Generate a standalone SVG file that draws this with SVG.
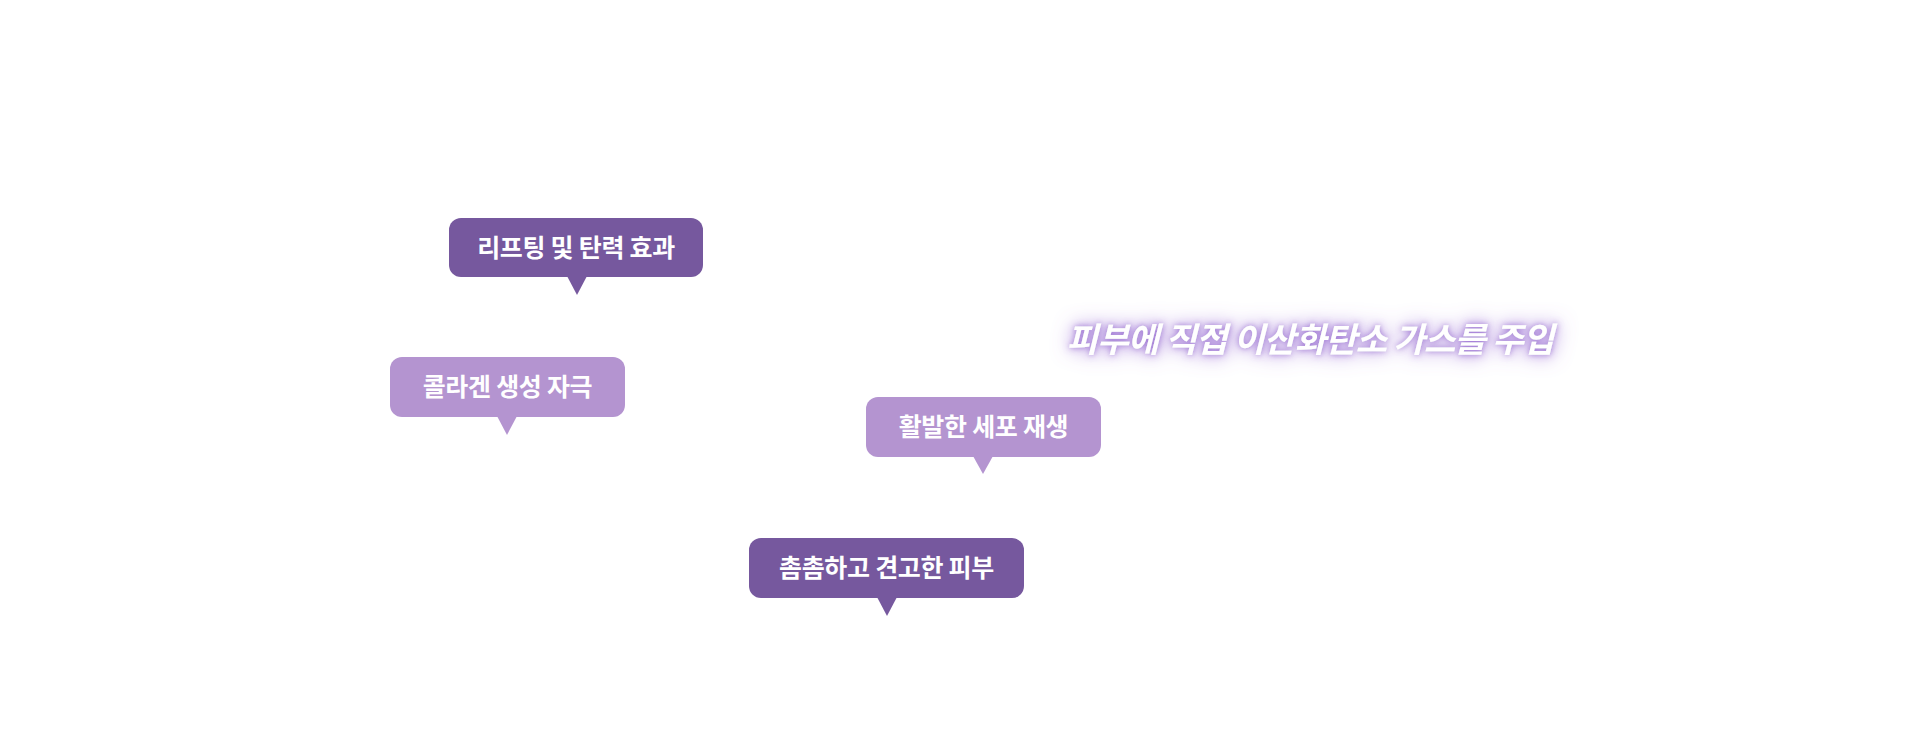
<svg xmlns="http://www.w3.org/2000/svg" width="1920" height="745" viewBox="0 0 1920 745">
<defs>
<style>
.dark{fill:#76589e}
.light{fill:#b494d0}
.lbl{font-family:"Noto Sans CJK KR","Noto Sans",sans-serif;font-weight:700;font-size:25px;fill:#ffffff;text-anchor:middle;letter-spacing:-0.3px}
.title{font-family:"Noto Sans CJK KR","Noto Sans",sans-serif;font-weight:700;font-size:34px;fill:#ffffff;text-anchor:middle;font-style:italic;letter-spacing:-0.7px}
</style>
<filter id="glow" x="-20%" y="-100%" width="140%" height="300%">
<feGaussianBlur in="SourceAlpha" stdDeviation="3" result="b1"/>
<feGaussianBlur in="SourceAlpha" stdDeviation="10" result="b2"/>
<feFlood flood-color="#8e5fcc" flood-opacity="0.85"/>
<feComposite in2="b1" operator="in" result="c1"/>
<feFlood flood-color="#9a6ed4" flood-opacity="1"/>
<feComposite in2="b2" operator="in" result="c2"/>
<feMerge><feMergeNode in="c2"/><feMergeNode in="c1"/><feMergeNode in="SourceGraphic"/></feMerge>
</filter>
</defs>
<rect width="1920" height="745" fill="#ffffff"/>
<g id="title">
<text class="title" x="1310" y="352" filter="url(#glow)">피부에 직접 이산화탄소 가스를 주입</text>
</g>
<g id="node-lifting">
<rect class="dark" x="449" y="218" width="254" height="59" rx="12"/>
<polygon class="dark" points="567,276 587,276 577,295"/>
<text class="lbl" x="576" y="257">리프팅 및 탄력 효과</text>
</g>
<g id="node-collagen">
<rect class="light" x="390" y="357" width="235" height="60" rx="12"/>
<polygon class="light" points="497,416 517,416 507,435"/>
<text class="lbl" x="507.5" y="396">콜라겐 생성 자극</text>
</g>
<g id="node-cell">
<rect class="light" x="866" y="397" width="235" height="60" rx="12"/>
<polygon class="light" points="973,456 993,456 983,474"/>
<text class="lbl" x="983.5" y="436">활발한 세포 재생</text>
</g>
<g id="node-skin">
<rect class="dark" x="749" y="538" width="275" height="60" rx="12"/>
<polygon class="dark" points="877,597 897,597 887,616"/>
<text class="lbl" x="886.5" y="577">촘촘하고 견고한 피부</text>
</g>
<g id="connectors"></g>
</svg>
